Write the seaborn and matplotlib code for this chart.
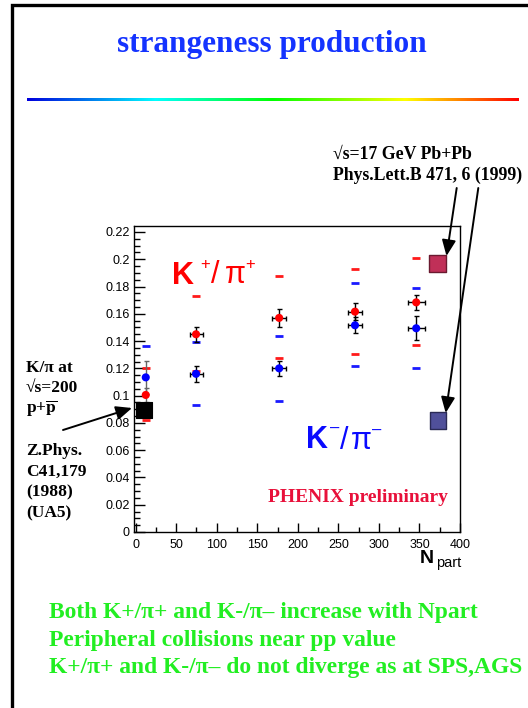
import numpy as np
import pandas as pd
import matplotlib
matplotlib.use("Agg")
import matplotlib.pyplot as plt
import seaborn as sns
from matplotlib.patches import Rectangle, FancyArrowPatch
from matplotlib.colors import LinearSegmentedColormap
from matplotlib.ticker import MultipleLocator, FixedLocator, FixedFormatter

# ---- data: K/pi ratios versus number of participants ----
npart = [12.5, 74.5, 177, 270.5, 346]
npart_err = [0, 8, 9, 9, 10.5]

kplus_ratio = [0.1005, 0.145, 0.157, 0.1616, 0.1684]
kplus_err = [0.005, 0.0055, 0.0064, 0.006, 0.0056]
kminus_ratio = [0.1134, 0.116, 0.120, 0.1516, 0.1494]
kminus_err = [0.012, 0.006, 0.0055, 0.0058, 0.0087]

# systematic limits
kplus_sys_hi = [0.1205, 0.1731, 0.1877, 0.1926, 0.2012]
kplus_sys_lo = [0.0821, 0.118, 0.1274, 0.1308, 0.1369]
kminus_sys_hi = [0.1364, 0.139, 0.1437, 0.1824, 0.1792]
kminus_sys_lo = [0.090, 0.0931, 0.0963, 0.122, 0.1205]

# reference measurements
pp_npart = [10]
pp_ratio = [0.0898]
sps_npart = [372, 373]
sps_ratio = [0.197, 0.082]

xtick_values = [0, 50, 100, 150, 200, 250, 300, 350, 400]
ytick_values = [0, 0.02, 0.04, 0.06, 0.08, 0.1, 0.12, 0.14, 0.16, 0.18, 0.2, 0.22]
ytick_labels = ["0", "0.02", "0.04", "0.06", "0.08", "0.1", "0.12", "0.14",
                "0.16", "0.18", "0.2", "0.22"]

title = "strangeness production"
summary_lines = [
    "Both K+/\u03c0+ and K-/\u03c0\u2013 increase with Npart",
    "Peripheral collisions near pp value",
    "K+/\u03c0+ and K-/\u03c0\u2013 do not diverge as at SPS,AGS",
]

# ---- style ----
sns.set_theme(style="ticks")
plt.rcParams["font.family"] = ["Liberation Sans", "DejaVu Sans"]

W, H = 528, 708
fig = plt.figure(figsize=(W / 100, H / 100), dpi=100)
fig.patch.set_facecolor("white")


def fp(x, y):
    """pixel position (top-left origin) -> figure fraction"""
    return (x / W, 1 - y / H)


SERIF = ["Liberation Serif", "DejaVu Serif"]

# slide frame (left and top edges visible, the rest runs off the page)
fig.add_artist(Rectangle(fp(11.5, 760), 3, (760 - 4.8) / H,
                         transform=fig.transFigure, fill=False,
                         lw=2.4, ec="black", clip_on=False))

# title
fig.text(*fp(272, 52), title, ha="center", va="baseline", fontsize=22.5,
         fontweight="bold", family=SERIF, color="#1433ff")

# rainbow rule
rax = fig.add_axes([27 / W, 1 - 101.5 / H, 492 / W, 3.2 / H])
rainbow = LinearSegmentedColormap.from_list(
    "rule", [(0, "#0000dd"), (0.26, "#00ffff"), (0.5, "#00ff00"),
             (0.77, "#ffff00"), (1, "#ff0000")])
rax.imshow(np.linspace(0, 1, 256)[None, :], aspect="auto", cmap=rainbow)
rax.axis("off")

# ---- main axes ----
ax = fig.add_axes([134 / W, 1 - 532 / H, (460 - 134) / W, (532 - 226) / H])
ax.set_xlim(-2, 400)
ax.set_ylim(0, 0.2244)

for sp in ax.spines.values():
    sp.set_visible(True)
    sp.set_color("black")
    sp.set_linewidth(1.0)

ax.xaxis.set_major_locator(FixedLocator(xtick_values))
ax.xaxis.set_minor_locator(MultipleLocator(25))
ax.yaxis.set_major_locator(FixedLocator(ytick_values))
ax.yaxis.set_major_formatter(FixedFormatter(ytick_labels))
ax.yaxis.set_minor_locator(MultipleLocator(0.005))
ax.tick_params(axis="both", which="both", direction="in", colors="black",
               labelsize=9, width=1)
ax.tick_params(axis="y", which="major", length=8, pad=3)
ax.tick_params(axis="y", which="minor", length=4.5)
ax.tick_params(axis="x", which="major", length=6.5, pad=5)
ax.tick_params(axis="x", which="minor", length=3.5)

# systematic limits as short dashes
for vals, col in ((kplus_sys_hi, "#ff1a1a"), (kplus_sys_lo, "#ff1a1a"),
                  (kminus_sys_hi, "#1a1aff"), (kminus_sys_lo, "#1a1aff")):
    ax.plot(npart, vals, ls="none", marker="_", ms=6, mew=2, color=col, zorder=2)

# statistical errors
for i in range(len(npart)):
    ec = "#666666" if npart_err[i] == 0 else "black"
    for ratio, err in ((kplus_ratio, kplus_err), (kminus_ratio, kminus_err)):
        ax.errorbar(npart[i], ratio[i], yerr=err[i],
                    xerr=npart_err[i] if npart_err[i] else None,
                    fmt="none", ecolor=ec, elinewidth=1, capsize=1.8,
                    capthick=1, zorder=3)

df = pd.DataFrame({
    "npart": npart * 2,
    "ratio": kplus_ratio + kminus_ratio,
    "species": ["K+/pi+"] * len(npart) + ["K-/pi-"] * len(npart),
})
sns.scatterplot(data=df, x="npart", y="ratio", hue="species",
                palette={"K+/pi+": "#ff0000", "K-/pi-": "#0000ff"},
                s=34, edgecolor="none", legend=False, zorder=4, ax=ax)

# reference squares
sns.scatterplot(x=pp_npart, y=pp_ratio, marker="s", s=11.5 ** 2, color="black",
                edgecolor="black", linewidth=0.8, zorder=5, ax=ax, clip_on=False)
sns.scatterplot(x=sps_npart, y=sps_ratio, marker="s", s=12 ** 2,
                hue=["K+/pi+", "K-/pi-"],
                palette={"K+/pi+": "#c03058", "K-/pi-": "#50509a"},
                edgecolor=["#6a1a30", "#2a2a55"], linewidth=1.0,
                legend=False, zorder=5, ax=ax)
ax.set_xlabel("")
ax.set_ylabel("")


def ratio_label(parts, color):
    """parts: (text, x_px, y_px, size, weight, va)"""
    for txt, x, y, size, weight, va in parts:
        fig.text(*fp(x, y), txt, ha="left", va=va, fontsize=size,
                 fontweight=weight, color=color)


ratio_label([("K", 171.5, 284, 22, "bold", "baseline"),
             ("+", 200.5, 265, 12, "normal", "center"),
             ("/", 211, 283, 22, "normal", "baseline"),
             ("\u03c0", 224.5, 283, 22, "normal", "baseline"),
             ("+", 245, 264, 12, "normal", "center")], "#ff0000")
ratio_label([("K", 306.5, 448, 22, "bold", "baseline"),
             ("\u2013", 330.5, 428, 12, "normal", "center"),
             ("/", 340, 449, 22, "normal", "baseline"),
             ("\u03c0", 351, 449, 22, "normal", "baseline"),
             ("\u2013", 372.5, 430, 12, "normal", "center")], "#0a0aff")

fig.text(*fp(268, 502), "PHENIX preliminary", ha="left", va="baseline",
         fontsize=14, fontweight="bold", family=SERIF, color="#e8103a")

# axis title N_part
fig.text(*fp(419.5, 563), "N", ha="left", va="baseline", fontsize=14,
         fontweight="bold", color="black")
fig.text(*fp(436, 567), "part", ha="left", va="baseline", fontsize=10.5,
         color="black")

# reference annotations
fig.text(*fp(333, 159), "\u221as=17 GeV Pb+Pb", ha="left", va="baseline",
         fontsize=12.8, fontweight="bold", family=SERIF, color="black")
fig.text(*fp(333, 180), "Phys.Lett.B 471, 6 (1999)", ha="left", va="baseline",
         fontsize=12.8, fontweight="bold", family=SERIF, color="black")

left_lines = [("K/\u03c0 at", 372), ("\u221as=200", 392.5),
              (None, 413), ("Z.Phys.", 455), ("C41,179", 476),
              ("(1988)", 496.5), ("(UA5)", 517)]
for txt, yb in left_lines:
    if txt is None:
        fig.text(*fp(26, yb), r"p+$\overline{\mathbf{p}}$", ha="left", va="baseline",
                 fontsize=12.5, fontweight="bold", family=SERIF,
                 math_fontfamily="stix", color="black")
    else:
        fig.text(*fp(26, yb), txt, ha="left", va="baseline", fontsize=12.5,
                 fontweight="bold", family=SERIF, color="black")

arrow = dict(arrowstyle="-|>,head_length=0.8,head_width=0.35", color="black",
             lw=1.4, shrinkA=0, shrinkB=0, mutation_scale=12)
for start, end in [((456.7, 188), (446.5, 256)),
                   ((478.3, 188), (445.7, 413)),
                   ((63, 430), (132, 408))]:
    fig.add_artist(FancyArrowPatch(fp(*start), fp(*end),
                                   transform=fig.transFigure, **arrow))

# summary
for txt, yb in zip(summary_lines, [618, 646, 673]):
    fig.text(*fp(49, yb), txt, ha="left", va="baseline", fontsize=16.9,
             fontweight="bold", family=SERIF, color="#22ee22")

fig.savefig("out.png", dpi=100)
